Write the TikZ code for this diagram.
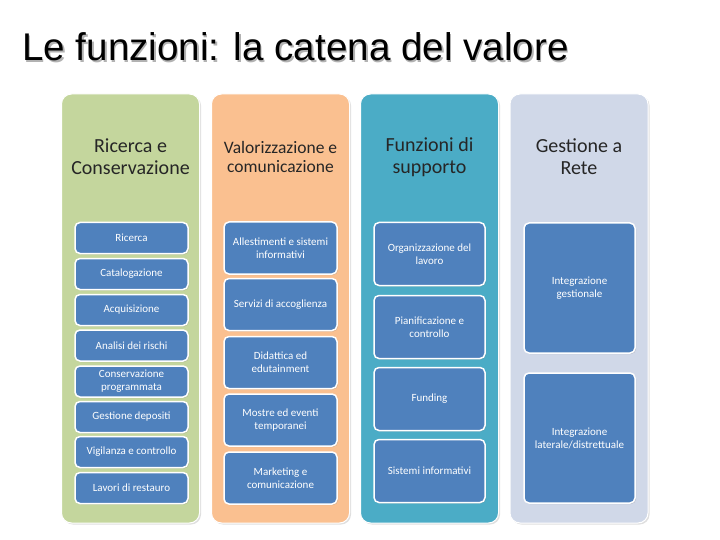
\documentclass[tikz,border=0pt]{standalone}
\usepackage{fontspec}
\setmainfont{Carlito}
\newfontfamily\arialfont{Liberation Sans}
\usetikzlibrary{shadows}
\definecolor{colgreen}{RGB}{196,214,157}
\definecolor{colorange}{RGB}{250,192,144}
\definecolor{colteal}{RGB}{75,172,198}
\definecolor{colgray}{RGB}{208,216,232}
\definecolor{boxblue}{RGB}{79,129,189}
\begin{document}
\begin{tikzpicture}[x=1pt,y=-1pt,
  colbox/.style={rounded corners=10pt, minimum width=138pt, minimum height=429pt, inner sep=0pt,
    draw=white, line width=1pt, drop shadow={shadow xshift=1.5pt, shadow yshift=-1.5pt, opacity=0.25}},
  coltitle/.style={align=center, text=black!85, inner sep=0pt},
  bigtitle/.style={font=\fontsize{20}{22}\selectfont},
  midtitle/.style={font=\fontsize{17.5}{19}\selectfont},
  itembox/.style={rounded corners=5pt, fill=boxblue, draw=white, line width=1.5pt, text=white,
    align=center, inner sep=1pt, font=\fontsize{11}{13}\selectfont,
    drop shadow={shadow xshift=1pt, shadow yshift=-1pt, opacity=0.3}},
  boxA/.style={itembox, minimum width=113pt, minimum height=31pt},
  boxB/.style={itembox, minimum width=113pt, minimum height=52pt},
  boxC/.style={itembox, minimum width=111pt, minimum height=63pt},
  boxD/.style={itembox, minimum width=111pt, minimum height=130pt},
  maintitle/.style={anchor=base west, inner sep=0pt, font=\arialfont\fontsize{38.6}{40}\selectfont}]
\useasboundingbox[fill=white] (0,0) rectangle (720,540);
% main title with its shadow
\node[maintitle, text=black!30] (tshadow) at (23.5,62.5) {Le funzioni: la catena del valore};
\node[maintitle, text=black] (title) at (22,61) {Le funzioni: la catena del valore};
% columns
\node[colbox, fill=colgreen] (c1) at (130.5,308.5) {};
\node[colbox, fill=colorange] (c2) at (280.5,308.5) {};
\node[colbox, fill=colteal] (c3) at (429.5,308.5) {};
\node[colbox, fill=colgray] (c4) at (579,308.5) {};
% column titles
\node[coltitle, bigtitle] (t1) at (130.5,157) {Ricerca e\\Conservazione};
\node[coltitle, midtitle] (t2) at (280.5,157) {Valorizzazione e\\comunicazione};
\node[coltitle, bigtitle] (t3) at (429.5,157) {Funzioni di\\supporto};
\node[coltitle, bigtitle] (t4) at (579,157) {Gestione a\\Rete};
% column 1 items
\node[boxA] (a1) at (131.5,238) {Ricerca};
\node[boxA] (a2) at (131.5,274) {Catalogazione};
\node[boxA] (a3) at (131.5,310) {Acquisizione};
\node[boxA] (a4) at (131.5,345.5) {Analisi dei rischi};
\node[boxA] (a5) at (131.5,381.5) {Conservazione\\programmata};
\node[boxA] (a6) at (131.5,417) {Gestione depositi};
\node[boxA] (a7) at (131.5,452) {Vigilanza e controllo};
\node[boxA] (a8) at (131.5,488) {Lavori di restauro};
% column 2 items
\node[boxB] (b1) at (280.5,248) {Allestimenti e sistemi\\informativi};
\node[boxB] (b2) at (280.5,304.5) {Servizi di accoglienza};
\node[boxB] (b3) at (280.5,362.5) {Didattica ed\\edutainment};
\node[boxB] (b4) at (280.5,420) {Mostre ed eventi\\temporanei};
\node[boxB] (b5) at (280.5,478) {Marketing e\\comunicazione};
% column 3 items
\node[boxC] (d1) at (429.5,254) {Organizzazione del\\lavoro};
\node[boxC] (d2) at (429.5,327) {Pianificazione e\\controllo};
\node[boxC] (d3) at (429.5,399) {Funding};
\node[boxC] (d4) at (429.5,471) {Sistemi informativi};
% column 4 items
\node[boxD] (e1) at (579.5,288) {Integrazione\\gestionale};
\node[boxD] (e2) at (579.5,438) {Integrazione\\laterale/distrettuale};
\end{tikzpicture}
\end{document}
